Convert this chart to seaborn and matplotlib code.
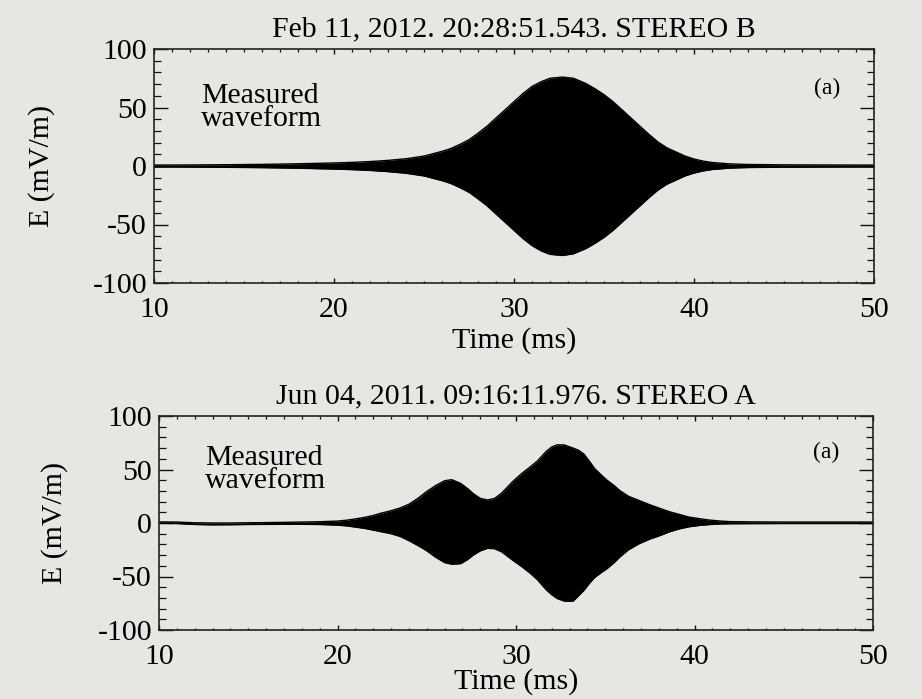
import numpy as np
import pandas as pd
import matplotlib
matplotlib.use("Agg")
import matplotlib.pyplot as plt
import seaborn as sns
from matplotlib.ticker import MultipleLocator

# ---------------- data ----------------
title_top = "Feb 11, 2012. 20:28:51.543. STEREO B"
title_bot = "Jun 04, 2011. 09:16:11.976. STEREO A"
x_ticks = [10, 20, 30, 40, 50]
y_ticks = [-100, -50, 0, 50, 100]

# STEREO B envelope: time (ms), upper / lower E (mV/m)
b_time = [10, 12, 14, 16, 18, 20, 21, 22, 23, 24, 25, 25.5, 26, 26.5, 27, 27.5,
          28, 28.5, 29, 29.5, 30, 30.5, 31, 31.5, 32, 32.7, 33.3, 34, 34.5, 35,
          35.5, 36, 36.5, 37, 37.5, 38, 38.5, 39, 39.5, 40, 40.5, 41, 42, 43,
          45, 47, 50]
b_upper = [0.8, 0.9, 1.1, 1.4, 1.9, 2.6, 3.1, 3.8, 4.8, 6.2, 8.5, 10.5, 12.5,
           15, 18.5, 22.5, 28, 34, 41, 48, 55, 62, 68, 72, 75, 76, 75, 70.5,
           66, 61, 55, 48, 41, 34, 27, 20.5, 15.5, 12, 8.5, 6, 4.2, 3, 1.8,
           1.3, 1.0, 0.9, 0.8]
b_lower = [-0.8, -0.9, -1.1, -1.4, -1.9, -2.6, -3.1, -3.8, -4.8, -6.2, -8.5,
           -10.5, -12.5, -15, -18.5, -22.5, -28, -34, -41, -48, -55, -62, -68,
           -72.5, -75.5, -76.5, -75, -70.5, -66, -61, -55, -48, -41, -34, -27,
           -20.5, -15.5, -12, -8.5, -6, -4.2, -3, -1.8, -1.3, -1.0, -0.9, -0.8]

# STEREO A envelope
a_time = [10, 11, 12, 13, 14, 15, 16, 17, 18, 19, 20, 20.5, 21, 21.5, 22, 22.4,
          23, 23.5, 24, 24.5, 25, 25.5, 26, 26.4, 26.9, 27.3, 27.6, 28, 28.4,
          28.8, 29.2, 29.8, 30.3, 30.8, 31.2, 31.7, 32, 32.3, 32.7, 33.2, 33.5,
          33.8, 34.1, 34.4, 34.8, 35.1, 35.5, 35.8, 36.3, 36.9, 37.5, 38.1,
          38.6, 39.2, 39.7, 40.3, 40.8, 41.4, 42, 43, 45, 47, 50]
a_upper = [1.0, 0.9, 0.2, 0.0, 0.0, 0.2, 0.4, 0.6, 0.9, 1.2, 1.8, 2.6, 3.8,
           5.2, 7.0, 9.0, 11.5, 14, 17.5, 23, 29.5, 35, 39.5, 40.5, 37, 32,
           27.5, 23, 21.5, 23, 28, 38.5, 46, 52.5, 58, 67, 71, 73, 73, 70, 68,
           64.5, 58, 51, 44.5, 40, 35, 30.5, 25, 21, 17, 13.4, 10.5, 7.8, 5.5,
           4.0, 2.8, 1.9, 1.3, 1.1, 0.9, 0.9, 0.9]
a_lower = [-0.3, -0.5, -1.4, -1.7, -1.6, -1.4, -1.3, -1.2, -1.2, -1.4, -2.0,
           -2.7, -3.8, -5.0, -6.6, -8.0, -10, -12.5, -16.5, -21, -26, -32, -37,
           -38.5, -38, -34, -30, -26, -23.7, -24, -27, -34.6, -40.5, -47, -53,
           -62.5, -67, -70.5, -73, -73, -68, -63, -56.6, -51, -46, -42.6, -37,
           -32, -25, -19.3, -15, -11.5, -8.2, -5.3, -3.5, -2.2, -1.5, -0.9,
           -0.7, -0.6, -0.5, -0.5, -0.5]

# ---------------- style ----------------
sns.set_theme(style="ticks")
BG = "#e7e6e2"
FONT = ["Liberation Serif", "DejaVu Serif"]
plt.rcParams["font.family"] = FONT
plt.rcParams["text.color"] = "black"
plt.rcParams["axes.labelcolor"] = "black"
plt.rcParams["xtick.color"] = "black"
plt.rcParams["ytick.color"] = "black"
FS = 21.5

fig = plt.figure(figsize=(9.22, 6.99), dpi=100)
fig.patch.set_facecolor(BG)

W, H = 922, 699
def px_axes(l, t, r, b):
    return fig.add_axes([l / W, (H - b) / H, (r - l) / W, (b - t) / H])

ax1 = px_axes(154, 49, 874, 283)
ax2 = px_axes(159, 416, 873, 630)

panels = [
    (ax1, b_time, b_upper, b_lower, title_top),
    (ax2, a_time, a_upper, a_lower, title_bot),
]

for ax, t, up, lo, ttl in panels:
    df = pd.DataFrame({"t": t, "up": up, "lo": lo})
    ax.set_facecolor("none")
    ax.fill_between(df["t"], df["lo"], df["up"], color="black", lw=0)
    sns.lineplot(data=df, x="t", y="up", ax=ax, color="black", lw=1.0)
    sns.lineplot(data=df, x="t", y="lo", ax=ax, color="black", lw=1.0)
    ax.set_xlim(10, 50)
    ax.set_ylim(-100, 100)
    ax.set_xticks(x_ticks)
    ax.set_yticks(y_ticks)
    ax.set_xticklabels([str(v) for v in x_ticks])
    ax.set_yticklabels([str(v) for v in y_ticks])
    ax.xaxis.set_minor_locator(MultipleLocator(1))
    ax.yaxis.set_minor_locator(MultipleLocator(10))
    ax.tick_params(axis="both", which="both", direction="in", top=True,
                   right=True, colors="#111111", labelcolor="black",
                   labelsize=FS)
    ax.tick_params(axis="x", which="major", length=3.5, width=1.0, pad=10)
    ax.tick_params(axis="x", which="minor", length=1.8, width=0.9)
    ax.tick_params(axis="y", which="major", length=10, width=1.0, pad=5)
    ax.tick_params(axis="y", which="minor", length=5, width=0.9)
    for s in ax.spines.values():
        s.set_linewidth(1.2)
        s.set_color("#222222")
        s.set_visible(True)
    ax.set_xlabel("Time (ms)", fontsize=FS, color="black")
    ax.set_ylabel("E (mV/m)", fontsize=FS, color="black")
    ax.set_title(ttl, fontsize=FS, pad=9, color="black")
    ax.text(12.6, 50, "Measured\nwaveform", fontsize=FS, ha="left",
            va="center", linespacing=0.85, color="black")
    ax.text(47.4, 66, "(a)", fontsize=17, ha="center", va="center",
            color="black")

ax1.xaxis.set_label_coords(0.5, -0.19)
ax2.xaxis.set_label_coords(0.5, -0.178)
ax1.yaxis.set_label_coords(-0.1375, 0.5)
ax2.yaxis.set_label_coords(-0.127, 0.5)

fig.savefig("out.png", dpi=100, facecolor=BG)
